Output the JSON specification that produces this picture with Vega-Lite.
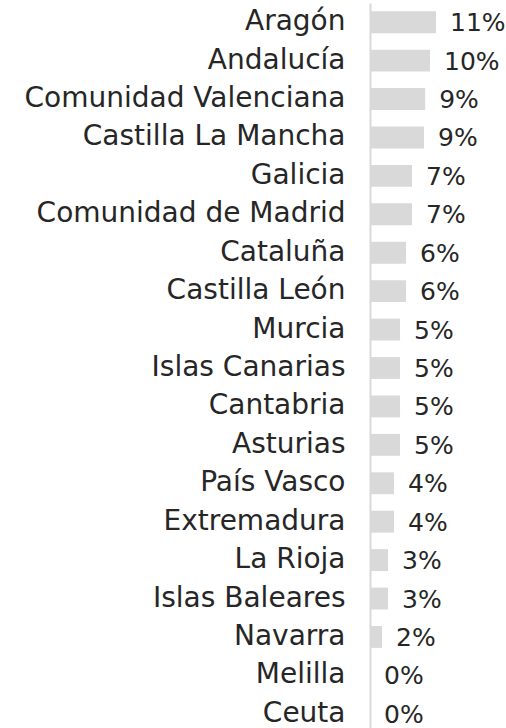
{
  "$schema": "https://vega.github.io/schema/vega-lite/v6.json",
  "autosize": "none",
  "width": 136,
  "height": 730,
  "padding": {"left": 370, "top": 3, "right": 0, "bottom": 0},
  "background": "white",
  "config": {"view": {"stroke": null}, "font": "DejaVu Sans"},
  "data": {
    "values": [
      {"region": "Aragón", "share": 0.11},
      {"region": "Andalucía", "share": 0.10},
      {"region": "Comunidad Valenciana", "share": 0.092},
      {"region": "Castilla La Mancha", "share": 0.09},
      {"region": "Galicia", "share": 0.07},
      {"region": "Comunidad de Madrid", "share": 0.07},
      {"region": "Cataluña", "share": 0.06},
      {"region": "Castilla León", "share": 0.06},
      {"region": "Murcia", "share": 0.05},
      {"region": "Islas Canarias", "share": 0.05},
      {"region": "Cantabria", "share": 0.05},
      {"region": "Asturias", "share": 0.05},
      {"region": "País Vasco", "share": 0.04},
      {"region": "Extremadura", "share": 0.04},
      {"region": "La Rioja", "share": 0.03},
      {"region": "Islas Baleares", "share": 0.03},
      {"region": "Navarra", "share": 0.02},
      {"region": "Melilla", "share": 0.0},
      {"region": "Ceuta", "share": 0.0}
    ]
  },
  "encoding": {
    "y": {
      "field": "region",
      "type": "nominal",
      "sort": null,
      "scale": {"paddingInner": 0.43},
      "axis": {
        "title": null,
        "ticks": false,
        "labelFontSize": 28,
        "labelColor": "#262626",
        "labelPadding": 25,
        "labelLimit": 400,
        "domainColor": "#d9d9d9",
        "domainWidth": 2
      }
    },
    "x": {
      "field": "share",
      "type": "quantitative",
      "scale": {"domain": [0, 0.2267]},
      "axis": null
    }
  },
  "layer": [
    {"mark": {"type": "bar", "color": "#d9d9d9", "x2": 1}},
    {
      "mark": {"type": "text", "align": "left", "baseline": "middle", "dx": 14, "dy": 1, "fontSize": 25, "color": "#262626"},
      "encoding": {"text": {"field": "share", "type": "quantitative", "format": ".0%"}}
    }
  ]
}
